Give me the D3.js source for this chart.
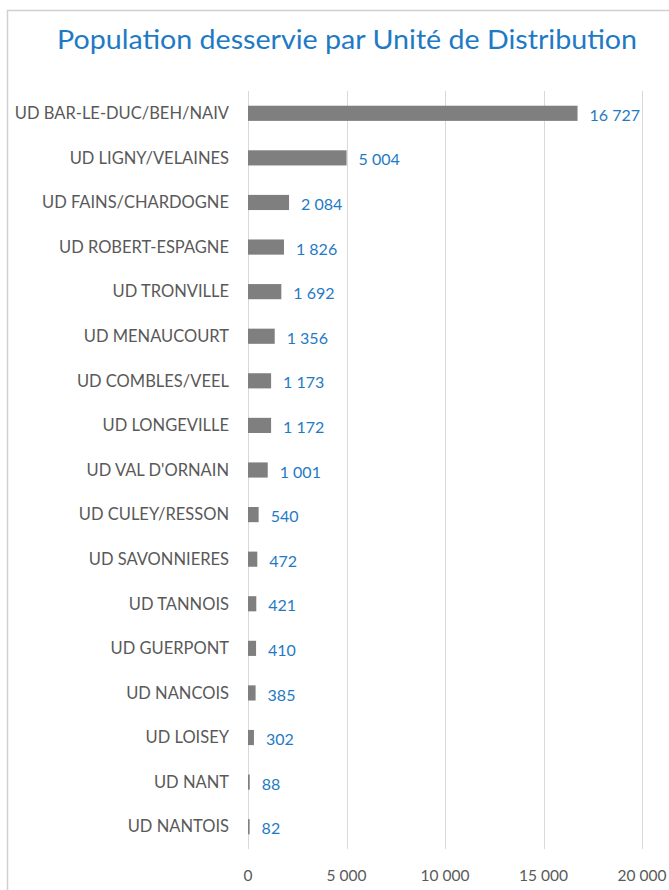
<!DOCTYPE html>
<html>
<head>
<meta charset="utf-8">
<script src="https://cdn.jsdelivr.net/npm/d3@7"></script>
<style>
  body { margin: 0; background: #fff; }
  svg { display: block; font-family: Lato, "Open Sans", sans-serif; }
</style>
</head>
<body>
<svg id="chart" width="669" height="890"></svg>
<script>
// data
const categories = [
  "UD BAR-LE-DUC/BEH/NAIV", "UD LIGNY/VELAINES", "UD FAINS/CHARDOGNE",
  "UD ROBERT-ESPAGNE", "UD TRONVILLE", "UD MENAUCOURT", "UD COMBLES/VEEL",
  "UD LONGEVILLE", "UD VAL D'ORNAIN", "UD CULEY/RESSON", "UD SAVONNIERES",
  "UD TANNOIS", "UD GUERPONT", "UD NANCOIS", "UD LOISEY", "UD NANT", "UD NANTOIS"
];
const population = [16727, 5004, 2084, 1826, 1692, 1356, 1173, 1172, 1001, 540, 472, 421, 410, 385, 302, 88, 82];
const xTicks = [0, 5000, 10000, 15000, 20000];

const svg = d3.select("#chart");
const margin = { top: 91, left: 248, right: 27, bottom: 41 };
const W = 669, H = 890;

// fr style thousands: "16 727"
const fmt = d3.formatLocale({ decimal: ",", thousands: "\u00a0", grouping: [3], currency: ["", " €"] }).format(",d");

const x = d3.scaleLinear().domain([0, 20000]).range([margin.left, W - margin.right]);
const y = d3.scaleBand().domain(categories).range([margin.top, H - margin.bottom]).paddingInner(0.66).paddingOuter(0.33);

// chart border
svg.append("rect")
  .attr("x", 7.5).attr("y", 10.5)
  .attr("width", 700).attr("height", 900)
  .attr("fill", "none").attr("stroke", "#d0d0d0").attr("stroke-width", 1.5);

// title
svg.append("text")
  .attr("x", 347).attr("y", 48.5)
  .attr("text-anchor", "middle")
  .attr("font-size", 26.5)
  .attr("textLength", 580)
  .attr("lengthAdjust", "spacingAndGlyphs")
  .attr("fill", "#1f7ac4")
  .text("Population desservie par Unité de Distribution");

// gridlines
svg.append("g")
  .selectAll("line")
  .data(xTicks)
  .join("line")
  .attr("x1", d => Math.round(x(d)) + 0.5)
  .attr("x2", d => Math.round(x(d)) + 0.5)
  .attr("y1", margin.top)
  .attr("y2", H - margin.bottom)
  .attr("stroke", "#d9d9d9");

// x axis labels
svg.append("g")
  .selectAll("text")
  .data(xTicks)
  .join("text")
  .attr("x", d => x(d))
  .attr("y", 881)
  .attr("text-anchor", "middle")
  .attr("font-size", 15.5)
  .attr("fill", "#595959")
  .text(d => fmt(d));

// bars
svg.append("g")
  .selectAll("rect")
  .data(population)
  .join("rect")
  .attr("x", x(0))
  .attr("y", (d, i) => y(categories[i]))
  .attr("width", d => Math.max(1.5, x(d) - x(0)))
  .attr("height", y.bandwidth())
  .attr("fill", "#7f7f7f");

// category labels
svg.append("g")
  .selectAll("text")
  .data(categories)
  .join("text")
  .attr("x", 229)
  .attr("y", d => y(d) + y.bandwidth() / 2)
  .attr("dy", "0.35em")
  .attr("text-anchor", "end")
  .attr("font-size", 16.5)
  .attr("fill", "#595959")
  .text(d => d);

// value labels
svg.append("g")
  .selectAll("text")
  .data(population)
  .join("text")
  .attr("x", d => Math.max(x(d), x(0) + 1.5) + 12)
  .attr("y", (d, i) => y(categories[i]) + y.bandwidth() / 2 + 2)
  .attr("dy", "0.35em")
  .attr("font-size", 16)
  .attr("fill", "#1f7ac4")
  .text(d => fmt(d));
</script>
</body>
</html>
